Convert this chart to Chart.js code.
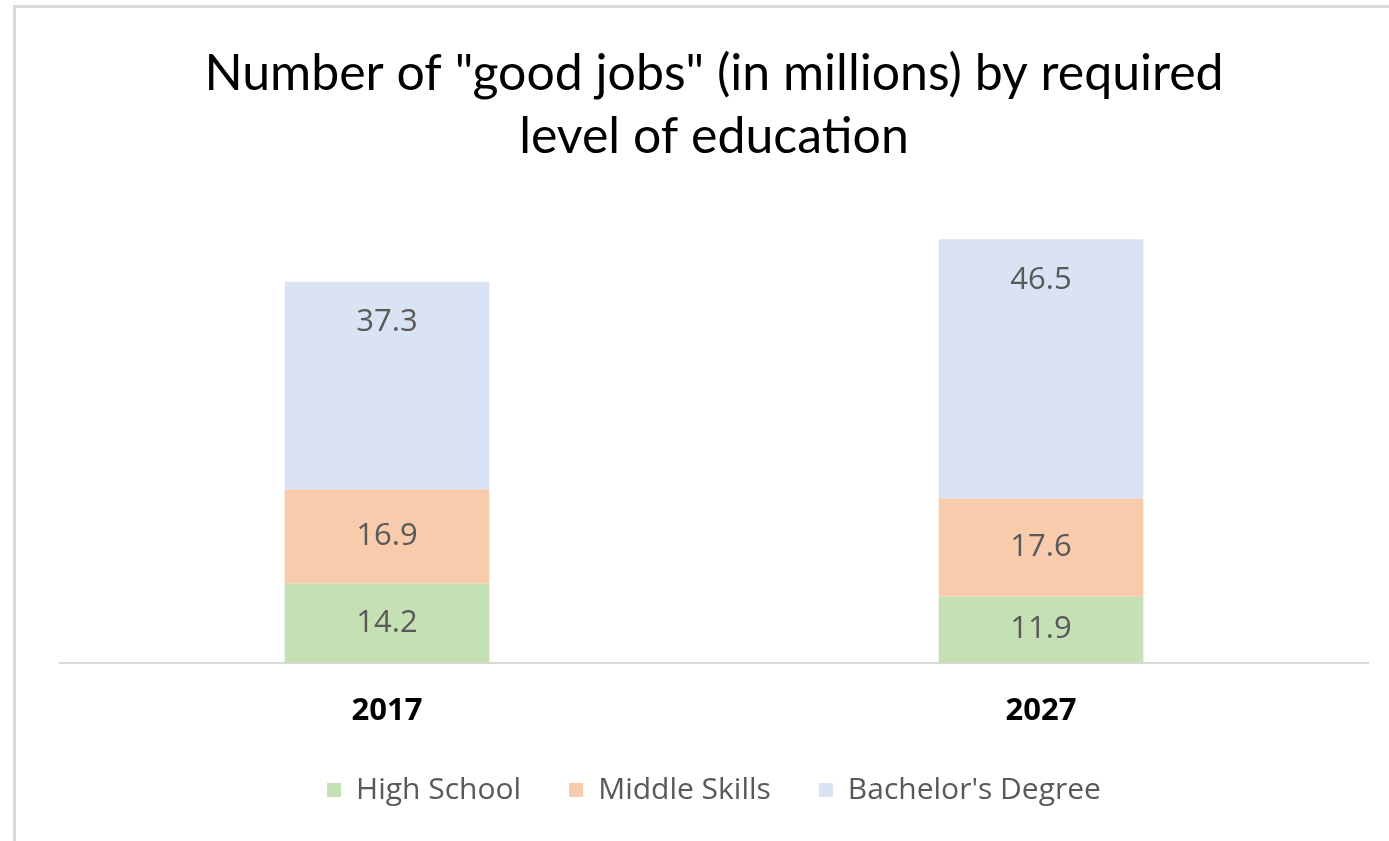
<!DOCTYPE html>
<html>
<head>
<meta charset="utf-8">
<script src="https://cdn.jsdelivr.net/npm/chart.js@4.4.1/dist/chart.umd.min.js"></script>
<style>
    html, body { margin: 0; padding: 0; background: #fff; }
    .frame {
        position: absolute;
        left: 13px;
        top: 5px;
        width: 1400px;
        height: 860px;
        border-left: 3px solid #d9d9d9;
        border-top: 3px solid #d9d9d9;
    }
    .chartBox { position: absolute; left: 0; top: 0; width: 1389px; height: 841px; }
</style>
</head>
<body>
<div class="frame"></div>
<div class="chartBox">
    <canvas id="chartContainer" width="1389" height="841"></canvas>
</div>
<script>
const years = ["2017", "2027"];
const highSchool = [14.2, 11.9];
const middleSkills = [16.9, 17.6];
const bachelors = [37.3, 46.5];
const seriesNames = ["High School", "Middle Skills", "Bachelor's Degree"];
const seriesColors = ["#c5e0b4", "#f8cbad", "#dae3f3"];

// value labels inside each segment (top series sits near the top of its bar)
const segmentLabels = {
    id: "segmentLabels",
    afterDatasetsDraw(chart) {
        const ctx = chart.ctx;
        ctx.save();
        ctx.font = "31px 'Open Sans'";
        ctx.fillStyle = "#595959";
        ctx.textAlign = "center";
        ctx.textBaseline = "middle";
        chart.data.datasets.forEach((ds, i) => {
            const meta = chart.getDatasetMeta(i);
            meta.data.forEach((bar, j) => {
                let y = (bar.y + bar.base) / 2;
                if (i === chart.data.datasets.length - 1) {
                    y = bar.y + 41;
                }
                ctx.fillText(ds.data[j].toFixed(1), bar.x, y);
            });
        });
        ctx.restore();
    },
};

const ctx = document.getElementById("chartContainer");
const chart = new Chart(ctx, {
    type: "bar",
    data: {
        labels: years,
        datasets: [
            { label: seriesNames[0], data: highSchool, backgroundColor: seriesColors[0] },
            { label: seriesNames[1], data: middleSkills, backgroundColor: seriesColors[1] },
            { label: seriesNames[2], data: bachelors, backgroundColor: seriesColors[2] },
        ],
    },
    options: {
        responsive: false,
        animation: false,
        layout: {
            padding: { left: 60, right: 21, bottom: 26 },
        },
        datasets: {
            bar: { categoryPercentage: 1, barPercentage: 0.313 },
        },
        scales: {
            x: {
                stacked: true,
                grid: { display: false },
                border: { color: "#d9d9d9", width: 2 },
                ticks: {
                    color: "#000",
                    padding: 22,
                    font: { family: "'Open Sans'", size: 31, weight: "bold" },
                },
                // pull the legend closer to the year labels
                afterFit(axis) {
                    axis.height -= 25;
                },
            },
            y: {
                stacked: true,
                display: false,
                min: 0,
                max: 80,
            },
        },
        plugins: {
            title: {
                display: true,
                text: ['Number of "good jobs" (in millions) by required', "level of education"],
                color: "#000",
                font: { family: "Lato", size: 50, weight: "normal", lineHeight: 1.25 },
                padding: { top: 43, bottom: 49 },
            },
            legend: {
                position: "bottom",
                labels: {
                    color: "#595959",
                    boxWidth: 14,
                    boxHeight: 14,
                    padding: 48,
                    font: { family: "'Open Sans'", size: 30 },
                },
            },
            tooltip: { enabled: false },
        },
    },
    plugins: [segmentLabels],
});
</script>
</body>
</html>
